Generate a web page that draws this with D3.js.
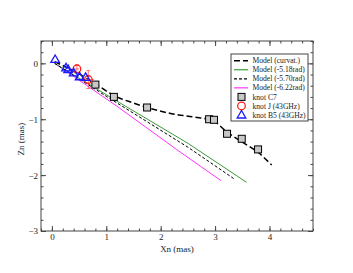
<!DOCTYPE html>
<html>
<head>
<meta charset="utf-8">
<script src="https://cdn.jsdelivr.net/npm/d3@7"></script>
<style>
  body { margin: 0; background: #fff; }
  svg text { font-family: "Liberation Serif", "DejaVu Serif", serif; fill: #222; }
</style>
</head>
<body>
<svg id="chart" width="353" height="273"></svg>
<script>
// model curves [x, z] in mas
const modelCurvat = [[0.05, 0.03], [0.5, -0.19], [0.82, -0.38], [1.15, -0.58], [1.5, -0.71], [1.75, -0.79],
  [2.2, -0.9], [2.6, -0.96], [2.95, -1.02], [3.22, -1.23], [3.5, -1.41], [3.8, -1.6], [4.04, -1.82]];
const model518 = [[0.05, 0.0], [1.1, -0.62], [2.5, -1.43], [3.58, -2.13]];
const model570 = [[0.05, 0.0], [1.1, -0.65], [2.5, -1.5], [3.34, -2.06]];
const model622 = [[0.05, 0.0], [1.2, -0.77], [2.29, -1.54], [3.11, -2.1]];

// knots
const knotC7 = [[0.8, -0.38], [1.14, -0.6], [1.75, -0.79], [2.89, -1.0], [2.98, -1.01],
  [3.22, -1.26], [3.49, -1.35], [3.79, -1.54]];
const knotJ = [[0.46, -0.1], [0.67, -0.29]];
const knotJErr = [[0.04, 0.08], [0.1, 0.16]];
const knotB5 = [[0.06, 0.07], [0.26, -0.08], [0.3, -0.11], [0.4, -0.17], [0.51, -0.24], [0.62, -0.25]];

const xTicks = [0, 1, 2, 3, 4];
const yTicks = [-3, -2, -1, 0];

const legendItems = [
  { label: "Model (curvat.)", type: "line", color: "#000", dash: "6,3" },
  { label: "Model (-5.18rad)", type: "line", color: "#3a9a3a", dash: null },
  { label: "Model (-5.70rad)", type: "line", color: "#000", dash: "3,2" },
  { label: "Model (-6.22rad)", type: "line", color: "#ff33ff", dash: null },
  { label: "knot C7", type: "square" },
  { label: "knot J (43GHz)", type: "circle" },
  { label: "knot B5 (43GHz)", type: "triangle" }
];

const svg = d3.select("#chart");
const pLeft = 41, pRight = 313, pTop = 41, pBottom = 231;

const x = d3.scaleLinear().domain([-0.2, 4.8]).range([pLeft, pRight]);
const y = d3.scaleLinear().domain([-3, 0.4]).range([pBottom, pTop]);

const minorX = d3.range(-0.2, 4.81, 0.2).map(v => +v.toFixed(1));
const minorY = d3.range(-3, 0.41, 0.2).map(v => +v.toFixed(1));

function styleAxis(g) {
  g.select(".domain").remove();
  g.selectAll("line").attr("stroke", "#444");
  g.selectAll("text").style("font-size", "9px").attr("fill", "#222");
}

// minor ticks
svg.append("g").attr("transform", `translate(0,${pBottom})`)
  .call(d3.axisBottom(x).tickValues(minorX).tickSize(-2.5).tickFormat("")).call(styleAxis);
svg.append("g").attr("transform", `translate(0,${pTop})`)
  .call(d3.axisTop(x).tickValues(minorX).tickSize(-2.5).tickFormat("")).call(styleAxis);
svg.append("g").attr("transform", `translate(${pLeft},0)`)
  .call(d3.axisLeft(y).tickValues(minorY).tickSize(-2.5).tickFormat("")).call(styleAxis);
svg.append("g").attr("transform", `translate(${pRight},0)`)
  .call(d3.axisRight(y).tickValues(minorY).tickSize(-2.5).tickFormat("")).call(styleAxis);

// major ticks
svg.append("g").attr("transform", `translate(0,${pBottom})`)
  .call(d3.axisBottom(x).tickValues(xTicks).tickSize(-5).tickPadding(3).tickFormat(d3.format("d"))).call(styleAxis);
svg.append("g").attr("transform", `translate(0,${pTop})`)
  .call(d3.axisTop(x).tickValues(xTicks).tickSize(-5).tickFormat("")).call(styleAxis);
svg.append("g").attr("transform", `translate(${pLeft},0)`)
  .call(d3.axisLeft(y).tickValues(yTicks).tickSize(-5).tickPadding(3).tickFormat(d3.format("d"))).call(styleAxis);
svg.append("g").attr("transform", `translate(${pRight},0)`)
  .call(d3.axisRight(y).tickValues(yTicks).tickSize(-5).tickFormat("")).call(styleAxis);

svg.append("rect")
  .attr("x", pLeft).attr("y", pTop)
  .attr("width", pRight - pLeft).attr("height", pBottom - pTop)
  .attr("fill", "none").attr("stroke", "#444").attr("stroke-width", 1);

// axis titles
svg.append("text")
  .attr("x", 177).attr("y", 252)
  .attr("text-anchor", "middle").style("font-size", "9px")
  .text("Xn (mas)");

svg.append("text")
  .attr("transform", "rotate(-90)")
  .attr("x", -139).attr("y", 24)
  .attr("text-anchor", "middle").style("font-size", "9px")
  .text("Zn (mas)");

const straight = d3.line().x(d => x(d[0])).y(d => y(d[1]));
const smooth = d3.line().x(d => x(d[0])).y(d => y(d[1])).curve(d3.curveMonotoneX);

svg.append("path").datum(model622)
  .attr("fill", "none").attr("stroke", "#ff33ff").attr("stroke-width", 1).attr("d", straight);
svg.append("path").datum(model518)
  .attr("fill", "none").attr("stroke", "#3a9a3a").attr("stroke-width", 1).attr("d", straight);
svg.append("path").datum(model570)
  .attr("fill", "none").attr("stroke", "#000").attr("stroke-width", 1)
  .attr("stroke-dasharray", "3,2").attr("d", straight);
svg.append("path").datum(modelCurvat)
  .attr("fill", "none").attr("stroke", "#000").attr("stroke-width", 1.5)
  .attr("stroke-dasharray", "6,3").attr("d", smooth);

// knot C7 squares
svg.selectAll(".c7").data(knotC7).join("rect")
  .attr("class", "c7")
  .attr("x", d => x(d[0]) - 3.5).attr("y", d => y(d[1]) - 3.5)
  .attr("width", 7).attr("height", 7)
  .attr("fill", "#c8c8c8").attr("stroke", "#000").attr("stroke-width", 1);

// knot J error bars and circles
const errG = svg.append("g").attr("stroke", "#ff5050").attr("stroke-width", 0.8);
knotJ.forEach((d, i) => {
  const cx = x(d[0]), cy = y(d[1]);
  const ex = knotJErr[i][0], ey = knotJErr[i][1];
  const y0 = y(d[1] + ey), y1 = y(d[1] - ey);
  const x0 = x(d[0] - ex), x1 = x(d[0] + ex);
  errG.append("line").attr("x1", cx).attr("x2", cx).attr("y1", y0).attr("y2", y1);
  errG.append("line").attr("x1", cx - 2).attr("x2", cx + 2).attr("y1", y0).attr("y2", y0);
  errG.append("line").attr("x1", cx - 2).attr("x2", cx + 2).attr("y1", y1).attr("y2", y1);
  errG.append("line").attr("x1", x0).attr("x2", x1).attr("y1", cy).attr("y2", cy);
});
svg.selectAll(".kj").data(knotJ).join("circle")
  .attr("class", "kj")
  .attr("cx", d => x(d[0])).attr("cy", d => y(d[1])).attr("r", 3.8)
  .attr("fill", "none").attr("stroke", "#ff2020").attr("stroke-width", 1.3);

// knot B5 triangles
const tri = d3.symbol().type(d3.symbolTriangle).size(32);
svg.selectAll(".b5").data(knotB5).join("path")
  .attr("class", "b5")
  .attr("transform", d => `translate(${x(d[0])},${y(d[1]) + 0.5})`)
  .attr("d", tri)
  .attr("fill", "none").attr("stroke", "#1a1aff").attr("stroke-width", 1.3);

// legend
const lg = svg.append("g");
lg.append("rect")
  .attr("x", 231).attr("y", 54).attr("width", 77).attr("height", 67)
  .attr("fill", "#fff").attr("stroke", "#444").attr("stroke-width", 1);

legendItems.forEach((it, i) => {
  const cy = 60.7 + i * 9.05;
  if (it.type === "line") {
    lg.append("line")
      .attr("x1", 234).attr("x2", 248).attr("y1", cy).attr("y2", cy)
      .attr("stroke", it.color).attr("stroke-width", it.dash === "6,3" ? 1.5 : 1.2)
      .attr("stroke-dasharray", it.dash);
  } else if (it.type === "square") {
    lg.append("rect").attr("x", 238).attr("y", cy - 3.5).attr("width", 7).attr("height", 7)
      .attr("fill", "#c8c8c8").attr("stroke", "#000");
  } else if (it.type === "circle") {
    lg.append("circle").attr("cx", 241.5).attr("cy", cy).attr("r", 3.8)
      .attr("fill", "none").attr("stroke", "#ff2020").attr("stroke-width", 1.3);
  } else {
    lg.append("path").attr("transform", `translate(241.5,${cy + 0.5})`).attr("d", tri)
      .attr("fill", "none").attr("stroke", "#1a1aff").attr("stroke-width", 1.3);
  }
  lg.append("text")
    .attr("x", 252.5).attr("y", cy + 2.6)
    .style("font-size", "7.6px")
    .text(it.label);
});
</script>
</body>
</html>
